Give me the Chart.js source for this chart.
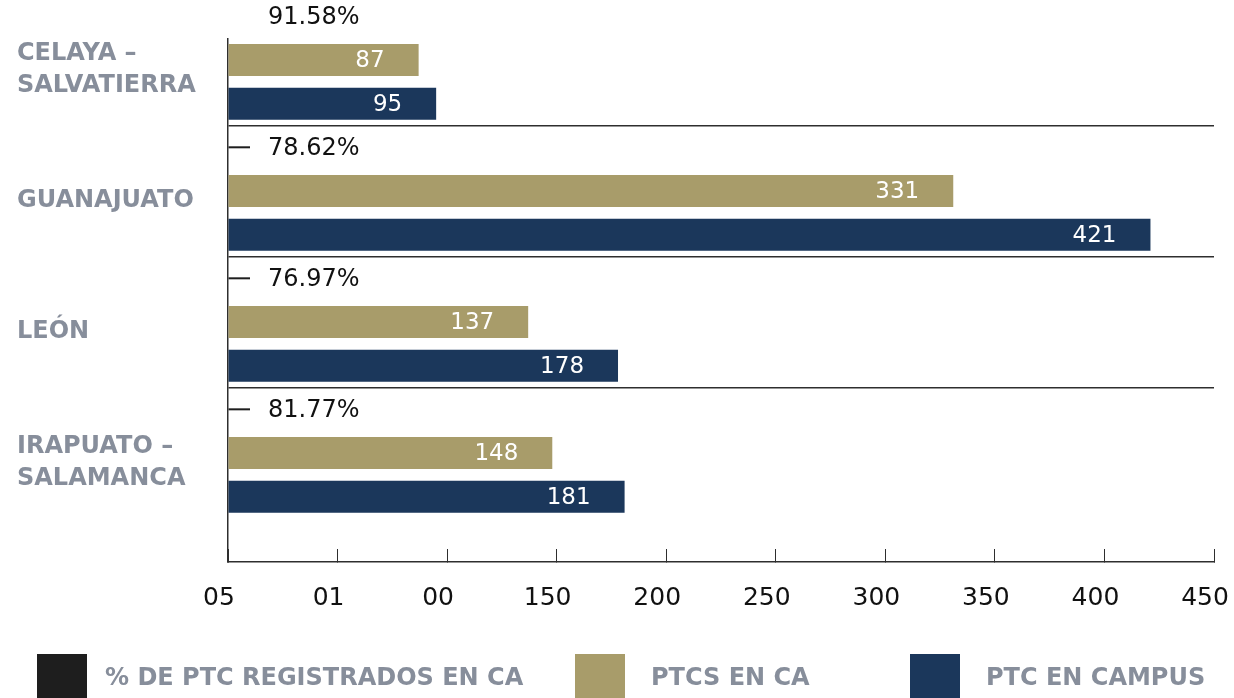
<!DOCTYPE html>
<html>
<head>
<meta charset="utf-8">
<script src="https://cdn.jsdelivr.net/npm/chart.js@4.4.1/dist/chart.umd.min.js"></script>
<style>
  html, body { margin: 0; padding: 0; background: #ffffff; overflow: hidden; }
  #wrap { position: relative; width: 1234px; height: 698px; }
</style>
</head>
<body>
<div id="wrap"><canvas id="c"></canvas></div>
<script>
// ---- data ----
const categories = ['CELAYA – SALVATIERRA', 'GUANAJUATO', 'LEÓN', 'IRAPUATO – SALAMANCA'];
const pctRegistrados = [91.58, 78.62, 76.97, 81.77];
const ptcsEnCA = [87, 331, 137, 148];
const ptcEnCampus = [95, 421, 178, 181];
const xTickLabels = ['05', '01', '00', '150', '200', '250', '300', '350', '400', '450'];
const seriesNames = ['% DE PTC REGISTRADOS EN CA', 'PTCS EN CA', 'PTC EN CAMPUS'];

// ---- styles ----
const COLORS = ['#1e1e1e', '#a89c6a', '#1b375b'];
const GRAY = '#878e9b';
const LINE = '#2e2e2e';
const NUM_FONT = '"DejaVu Sans", sans-serif';
const LEGEND_BOX_X = [37, 575, 910];
const LEGEND_TEXT_X = [105, 651, 986];

const toPoints = arr => arr.map((v, i) => ({ x: v, y: i }));

const valueLabels = {
  id: 'valueLabels',
  afterDatasetsDraw(chart) {
    const ctx = chart.ctx;
    ctx.save();
    ctx.textBaseline = 'middle';
    chart.data.datasets.forEach((ds, di) => {
      const meta = chart.getDatasetMeta(di);
      meta.data.forEach((bar, i) => {
        if (di === 0) {
          ctx.font = '24px ' + NUM_FONT;
          ctx.fillStyle = '#111111';
          ctx.textAlign = 'left';
          ctx.fillText(pctRegistrados[i].toFixed(2) + '%', bar.x + 18, bar.y + 1);
        } else {
          const vals = di === 1 ? ptcsEnCA : ptcEnCampus;
          ctx.font = '23px ' + NUM_FONT;
          ctx.fillStyle = '#ffffff';
          ctx.textAlign = 'right';
          ctx.fillText(String(vals[i]), bar.x - 34, bar.y + 1);
        }
      });
    });
    ctx.restore();
  }
};

const customLegend = {
  id: 'customLegend',
  afterDraw(chart) {
    const ctx = chart.ctx;
    ctx.save();
    ctx.font = 'bold 24px "DejaVu Sans", sans-serif';
    ctx.textBaseline = 'middle';
    ctx.textAlign = 'left';
    seriesNames.forEach((name, i) => {
      ctx.fillStyle = COLORS[i];
      ctx.fillRect(LEGEND_BOX_X[i], 654, 50, 44);
      ctx.fillStyle = GRAY;
      ctx.fillText(name, LEGEND_TEXT_X[i], 679);
    });
    ctx.restore();
  }
};

const isHalf = v => Math.abs(v - Math.round(v)) > 0.25;

new Chart(document.getElementById('c'), {
  type: 'bar',
  data: {
    datasets: [
      { label: seriesNames[0], data: toPoints(pctRegistrados.map(v => v / 100)), backgroundColor: COLORS[0],
        barPercentage: 0.046, minBarLength: 22, borderWidth: 0 },
      { label: seriesNames[1], data: toPoints(ptcsEnCA), backgroundColor: COLORS[1],
        barPercentage: 0.733, borderWidth: 0 },
      { label: seriesNames[2], data: toPoints(ptcEnCampus), backgroundColor: COLORS[2],
        barPercentage: 0.733, borderWidth: 0 }
    ]
  },
  options: {
    indexAxis: 'y',
    responsive: true,
    maintainAspectRatio: false,
    animation: false,
    categoryPercentage: 2.0,
    layout: { padding: { top: 39, left: 17, right: 0, bottom: 50 } },
    plugins: { legend: { display: false }, tooltip: { enabled: false } },
    scales: {
      x: {
        type: 'linear',
        min: 0, max: 450,
        ticks: {
          stepSize: 50,
          callback: (v, idx) => xTickLabels[idx],
          color: '#111111',
          font: { family: 'DejaVu Sans', size: 25 },
          padding: 34,
          labelOffset: -9,
          maxRotation: 0,
          autoSkip: false
        },
        grid: { drawOnChartArea: false, tickLength: -13, color: LINE, lineWidth: 1 },
        border: { display: true, color: LINE, width: 1.5 },
        afterFit(scale) { scale.height = 86; scale.paddingRight = 20; scale.paddingLeft = 0; }
      },
      y: {
        type: 'linear',
        reverse: true,
        offset: false,
        min: -0.16,
        max: 3.832,
        ticks: {
          stepSize: 0.5,
          includeBounds: false,
          autoSkip: false,
          crossAlign: 'far',
          labelOffset: 10,
          color: GRAY,
          font: { family: 'DejaVu Sans', size: 24, weight: 'bold', lineHeight: 1.33 },
          callback: v => {
            if (isHalf(v)) return '';
            const lab = categories[Math.round(v)];
            return lab ? lab.replace(' – ', ' –\n').split('\n') : '';
          }
        },
        grid: {
          offset: false,
          drawTicks: false,
          tickLength: 0,
          lineWidth: 1.5,
          color: ctx => (ctx.tick && isHalf(ctx.tick.value) && ctx.tick.value < categories.length - 1) ? LINE : 'rgba(0,0,0,0)'
        },
        border: { display: true, color: LINE, width: 1.5 },
        afterFit(scale) { scale.width = 211; }
      }
    }
  },
  plugins: [valueLabels, customLegend]
});
</script>
</body>
</html>
